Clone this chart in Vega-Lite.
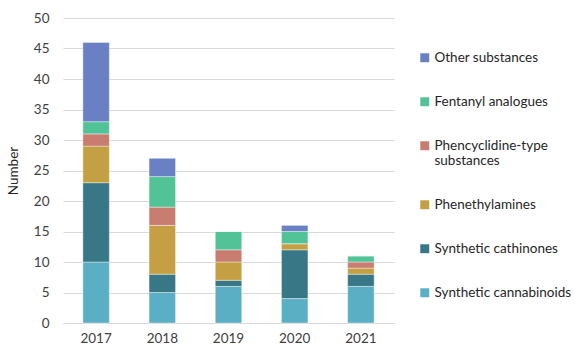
{
  "$schema": "https://vega.github.io/schema/vega-lite/v6.json",
  "width": 331,
  "height": 305,
  "autosize": {"type": "none"},
  "padding": {"left": 63, "top": 18, "right": 180, "bottom": 23},
  "background": "white",
  "config": {
    "view": {"stroke": null},
    "font": "Lato",
    "axis": {"labelFont": "Lato", "titleFont": "Lato", "labelColor": "#404040", "titleColor": "#262626", "labelFontSize": 13.5, "titleFontSize": 13.5, "titleFontWeight": "normal"},
    "legend": {"labelFont": "Lato", "labelFontSize": 13.5, "labelColor": "#262626"}
  },
  "data": {
    "values": [
      {"year": "2017", "category": "Synthetic cannabinoids", "rank": 1, "value": 10},
      {"year": "2017", "category": "Synthetic cathinones", "rank": 2, "value": 13},
      {"year": "2017", "category": "Phenethylamines", "rank": 3, "value": 6},
      {"year": "2017", "category": "Phencyclidine-type substances", "rank": 4, "value": 2},
      {"year": "2017", "category": "Fentanyl analogues", "rank": 5, "value": 2},
      {"year": "2017", "category": "Other substances", "rank": 6, "value": 13},
      {"year": "2018", "category": "Synthetic cannabinoids", "rank": 1, "value": 5},
      {"year": "2018", "category": "Synthetic cathinones", "rank": 2, "value": 3},
      {"year": "2018", "category": "Phenethylamines", "rank": 3, "value": 8},
      {"year": "2018", "category": "Phencyclidine-type substances", "rank": 4, "value": 3},
      {"year": "2018", "category": "Fentanyl analogues", "rank": 5, "value": 5},
      {"year": "2018", "category": "Other substances", "rank": 6, "value": 3},
      {"year": "2019", "category": "Synthetic cannabinoids", "rank": 1, "value": 6},
      {"year": "2019", "category": "Synthetic cathinones", "rank": 2, "value": 1},
      {"year": "2019", "category": "Phenethylamines", "rank": 3, "value": 3},
      {"year": "2019", "category": "Phencyclidine-type substances", "rank": 4, "value": 2},
      {"year": "2019", "category": "Fentanyl analogues", "rank": 5, "value": 3},
      {"year": "2019", "category": "Other substances", "rank": 6, "value": 0},
      {"year": "2020", "category": "Synthetic cannabinoids", "rank": 1, "value": 4},
      {"year": "2020", "category": "Synthetic cathinones", "rank": 2, "value": 8},
      {"year": "2020", "category": "Phenethylamines", "rank": 3, "value": 1},
      {"year": "2020", "category": "Phencyclidine-type substances", "rank": 4, "value": 0},
      {"year": "2020", "category": "Fentanyl analogues", "rank": 5, "value": 2},
      {"year": "2020", "category": "Other substances", "rank": 6, "value": 1},
      {"year": "2021", "category": "Synthetic cannabinoids", "rank": 1, "value": 6},
      {"year": "2021", "category": "Synthetic cathinones", "rank": 2, "value": 2},
      {"year": "2021", "category": "Phenethylamines", "rank": 3, "value": 1},
      {"year": "2021", "category": "Phencyclidine-type substances", "rank": 4, "value": 1},
      {"year": "2021", "category": "Fentanyl analogues", "rank": 5, "value": 1},
      {"year": "2021", "category": "Other substances", "rank": 6, "value": 0}
    ]
  },
  "mark": {"type": "bar", "stroke": "white", "strokeWidth": 0.4},
  "encoding": {
    "x": {
      "field": "year", "type": "nominal",
      "scale": {"paddingInner": 0.6, "paddingOuter": 0.3},
      "axis": {"title": null, "labelAngle": 0, "ticks": false, "domainColor": "#d9d9d9", "labelPadding": 8}
    },
    "y": {
      "field": "value", "type": "quantitative", "stack": "zero",
      "scale": {"domain": [0, 50], "nice": false},
      "axis": {"title": "Number", "values": [0,5,10,15,20,25,30,35,40,45,50], "domain": false, "ticks": false, "gridColor": "#d9d9d9", "labelPadding": 14, "titlePadding": 13}
    },
    "color": {
      "field": "category", "type": "nominal",
      "scale": {
        "domain": ["Other substances", "Fentanyl analogues", "Phencyclidine-type substances", "Phenethylamines", "Synthetic cathinones", "Synthetic cannabinoids"],
        "range": ["#6a80c4", "#52c396", "#c87d70", "#c49f44", "#387785", "#5aafc4"]
      },
      "legend": {
        "title": null, "symbolType": "square", "symbolSize": 80, "symbolStrokeWidth": 0,
        "orient": "none", "legendX": 355, "legendY": 33,
        "rowPadding": 29, "labelOffset": 3, "labelLimit": 220, "labelLineHeight": 16,
        "labelExpr": "datum.label == 'Phencyclidine-type substances' ? ['Phencyclidine-type', 'substances'] : datum.label"
      }
    },
    "order": {"field": "rank", "type": "quantitative", "sort": "ascending"}
  }
}
